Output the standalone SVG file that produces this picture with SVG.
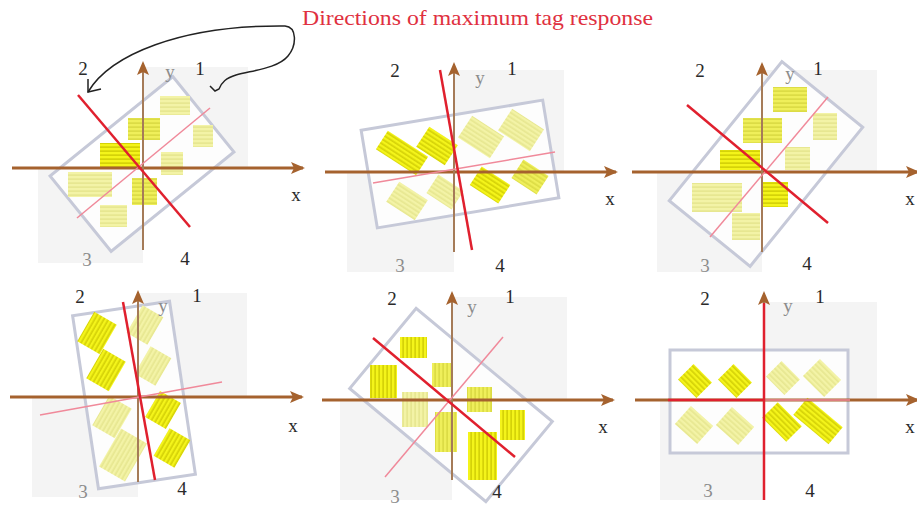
<svg xmlns="http://www.w3.org/2000/svg" width="917" height="509" viewBox="0 0 917 509">
<style>
.bg{fill:#f4f4f4}
.board{fill:#ffffff;fill-opacity:0.8;stroke:#c6c9d8;stroke-width:3}
.ax{stroke:#a5622e;stroke-width:3;fill:none;marker-end:url(#ah)}
.ay{stroke:#a57b58;stroke-width:2;fill:none;marker-end:url(#ah)}
.red{stroke:#e0202e;stroke-width:2.5;fill:none}
.pink{stroke:#f0899a;stroke-width:1.5;fill:none}
.lb{font-family:"Liberation Serif",serif;font-size:19px;fill:#2a2a2a;text-anchor:middle}
.lg{font-family:"Liberation Serif",serif;font-size:19px;fill:#8c8c8c;text-anchor:middle}
.hb{fill:url(#hb)}.hm{fill:url(#hm)}.hf{fill:url(#hf)}
.vb{fill:url(#vb)}.vm{fill:url(#vm)}.vf{fill:url(#vf)}
</style>
<defs>
<marker id="ah" viewBox="0 0 14 12" refX="12" refY="6" markerWidth="14" markerHeight="12" markerUnits="userSpaceOnUse" orient="auto"><path d="M0,0 L14,6 L0,12 L3,6z" fill="#a5622e"/></marker>
<pattern id="hb" width="6" height="4" patternUnits="userSpaceOnUse"><rect width="6" height="4" fill="#f4f41a"/><rect y="2.5" width="6" height="1.2" fill="#c8c400"/></pattern>
<pattern id="hm" width="6" height="4" patternUnits="userSpaceOnUse"><rect width="6" height="4" fill="#efef5a"/><rect y="2.5" width="6" height="1.2" fill="#d4d43c"/></pattern>
<pattern id="hf" width="6" height="4" patternUnits="userSpaceOnUse"><rect width="6" height="4" fill="#f3f3a6"/><rect y="2.5" width="6" height="1.2" fill="#e2e288"/></pattern>
<pattern id="vb" width="4" height="6" patternUnits="userSpaceOnUse"><rect width="4" height="6" fill="#f4f41a"/><rect x="2.5" width="1.2" height="6" fill="#c8c400"/></pattern>
<pattern id="vm" width="4" height="6" patternUnits="userSpaceOnUse"><rect width="4" height="6" fill="#efef5a"/><rect x="2.5" width="1.2" height="6" fill="#d4d43c"/></pattern>
<pattern id="vf" width="4" height="6" patternUnits="userSpaceOnUse"><rect width="4" height="6" fill="#f3f3a6"/><rect x="2.5" width="1.2" height="6" fill="#e2e288"/></pattern>
</defs>
<rect width="917" height="509" fill="#ffffff"/>

<text x="302" y="25" font-family="Liberation Serif, serif" font-size="21" fill="#e03040" textLength="351" lengthAdjust="spacingAndGlyphs">Directions of maximum tag response</text>

<g id="panel1">
<rect class="bg" x="143" y="67" width="105" height="101"/>
<rect class="bg" x="38" y="168" width="105" height="95"/>
<rect class="board" x="-79" y="-48.5" width="158" height="97" transform="translate(142,164) rotate(-39)"/>
<rect class="hf" x="160" y="96" width="30" height="19"/>
<rect class="hm" x="128" y="118" width="32" height="22"/>
<rect class="hf" x="193" y="125" width="20" height="22"/>
<rect class="hb" x="100" y="143" width="40" height="24"/>
<rect class="hf" x="161" y="152" width="22" height="23"/>
<rect class="hf" x="68" y="172" width="44" height="25"/>
<rect class="hm" x="132" y="178" width="25" height="27"/>
<rect class="hf" x="100" y="205" width="27" height="22"/>
<path class="ax" d="M12,168 L303,168"/>
<path class="ay" d="M143,250 L143,63"/>
<path class="pink" d="M77,218 L210,108"/>
<path class="red" d="M78,95 L190,227"/>
<text class="lb" x="83" y="75">2</text>
<text class="lg" x="170" y="78">y</text>
<text class="lb" x="200" y="75">1</text>
<text class="lg" x="87" y="266">3</text>
<text class="lb" x="185" y="265">4</text>
<text class="lb" x="296" y="201">x</text>
</g>

<g id="panel2">
<rect class="bg" x="454" y="70" width="110" height="102"/>
<rect class="bg" x="347" y="172" width="107" height="100"/>
<rect class="board" x="-92" y="-49.5" width="184" height="99" transform="translate(460,164) rotate(-9.4)"/>
<rect class="hb" x="-24" y="-11" width="48" height="22" transform="translate(402,153) rotate(33)"/>
<rect class="hb" x="-17" y="-12" width="34" height="24" transform="translate(437,146) rotate(33)"/>
<rect class="hf" x="-19" y="-13" width="38" height="26" transform="translate(481,137) rotate(33)"/>
<rect class="hf" x="-19" y="-13" width="38" height="26" transform="translate(521,130) rotate(33)"/>
<rect class="hf" x="-17" y="-12" width="34" height="24" transform="translate(407,201) rotate(33)"/>
<rect class="hf" x="-15" y="-11" width="30" height="22" transform="translate(445,192) rotate(33)"/>
<rect class="hb" x="-17" y="-11" width="34" height="22" transform="translate(490,185) rotate(33)"/>
<rect class="hm" x="-15" y="-11" width="30" height="22" transform="translate(530,177) rotate(33)"/>
<path class="ax" d="M325,172 L616,172"/>
<path class="ay" d="M454,252 L454,64"/>
<path class="pink" d="M373,183 L555,152"/>
<path class="red" d="M440,70 L472,250"/>
<text class="lb" x="395" y="77">2</text>
<text class="lg" x="480" y="84">y</text>
<text class="lb" x="512" y="75">1</text>
<text class="lg" x="400" y="272">3</text>
<text class="lb" x="500" y="272">4</text>
<text class="lb" x="610" y="205">x</text>
</g>

<g id="panel3">
<rect class="bg" x="762" y="70" width="115" height="102"/>
<rect class="bg" x="657" y="172" width="105" height="100"/>
<rect class="board" x="-89.5" y="-52" width="179" height="104" transform="translate(766,164) rotate(-51)"/>
<rect class="hm" x="773" y="87" width="34" height="25"/>
<rect class="hm" x="743" y="118" width="39" height="25"/>
<rect class="hf" x="813" y="113" width="24" height="27"/>
<rect class="hb" x="720" y="150" width="40" height="20"/>
<rect class="hf" x="785" y="147" width="25" height="23"/>
<rect class="hf" x="692" y="183" width="50" height="29"/>
<rect class="hb" x="763" y="182" width="25" height="25"/>
<rect class="hf" x="732" y="213" width="28" height="27"/>
<path class="ax" d="M632,172 L918,172"/>
<path class="ay" d="M762,252 L762,64"/>
<path class="pink" d="M710,237 L828,97"/>
<path class="red" d="M687,105 L828,223"/>
<text class="lb" x="700" y="77">2</text>
<text class="lg" x="790" y="80">y</text>
<text class="lb" x="818" y="75">1</text>
<text class="lg" x="705" y="272">3</text>
<text class="lb" x="807" y="270">4</text>
<text class="lb" x="910" y="205">x</text>
</g>

<g id="panel4">
<rect class="bg" x="138" y="293" width="109" height="104"/>
<rect class="bg" x="32" y="397" width="106" height="100"/>
<rect class="board" x="-49" y="-87.5" width="98" height="175" transform="translate(134,395) rotate(-8.5)"/>
<rect class="vb" x="-13" y="-17" width="26" height="34" transform="translate(97,333) rotate(30)"/>
<rect class="vf" x="-12" y="-16" width="24" height="32" transform="translate(145,325) rotate(30)"/>
<rect class="vb" x="-13" y="-17" width="26" height="34" transform="translate(106,370) rotate(30)"/>
<rect class="vf" x="-12" y="-16" width="24" height="32" transform="translate(153,366) rotate(30)"/>
<rect class="vf" x="-13" y="-17" width="26" height="34" transform="translate(112,417) rotate(30)"/>
<rect class="vb" x="-12" y="-15" width="24" height="30" transform="translate(163,410) rotate(30)"/>
<rect class="vf" x="-15" y="-22" width="30" height="44" transform="translate(123,455) rotate(30)"/>
<rect class="vb" x="-12" y="-16" width="24" height="32" transform="translate(172,448) rotate(30)"/>
<path class="ax" d="M10,397 L302,397"/>
<path class="ay" d="M138,482 L138,292"/>
<path class="pink" d="M40,415 L222,382"/>
<path class="red" d="M123,302 L155,480"/>
<text class="lb" x="80" y="303">2</text>
<text class="lg" x="163" y="312">y</text>
<text class="lb" x="197" y="302">1</text>
<text class="lg" x="83" y="498">3</text>
<text class="lb" x="182" y="495">4</text>
<text class="lb" x="293" y="432">x</text>
</g>

<g id="panel5">
<rect class="bg" x="452" y="297" width="115" height="103"/>
<rect class="bg" x="340" y="400" width="112" height="100"/>
<rect class="board" x="-88.5" y="-52" width="177" height="104" transform="translate(451,405) rotate(39.7)"/>
<rect class="vb" x="400" y="337" width="27" height="21"/>
<rect class="vb" x="370" y="365" width="27" height="33"/>
<rect class="vm" x="432" y="363" width="20" height="24"/>
<rect class="vf" x="402" y="392" width="26" height="35"/>
<rect class="vm" x="435" y="412" width="22" height="40"/>
<rect class="vm" x="467" y="387" width="25" height="25"/>
<rect class="vb" x="500" y="410" width="25" height="30"/>
<rect class="vb" x="468" y="432" width="29" height="48"/>
<path class="ax" d="M322,400 L613,400"/>
<path class="ay" d="M452,480 L452,293"/>
<path class="pink" d="M385,477 L503,337"/>
<path class="red" d="M373,338 L515,457"/>
<text class="lb" x="392" y="305">2</text>
<text class="lg" x="472" y="313">y</text>
<text class="lb" x="510" y="303">1</text>
<text class="lg" x="395" y="503">3</text>
<text class="lb" x="497" y="498">4</text>
<text class="lb" x="603" y="433">x</text>
</g>

<g id="panel6">
<rect class="bg" x="764" y="302" width="113" height="98"/>
<rect class="bg" x="660" y="400" width="104" height="100"/>
<rect class="board" x="670" y="350" width="178" height="103"/>
<rect class="hb" x="-13" y="-11" width="26" height="22" transform="translate(695,381) rotate(45)"/>
<rect class="hb" x="-13" y="-11" width="26" height="22" transform="translate(735,381) rotate(45)"/>
<rect class="hf" x="-13" y="-11" width="26" height="22" transform="translate(783,378) rotate(45)"/>
<rect class="hf" x="-15" y="-12" width="30" height="24" transform="translate(822,378) rotate(45)"/>
<rect class="hf" x="-15" y="-12" width="30" height="24" transform="translate(694,425) rotate(42)"/>
<rect class="hf" x="-15" y="-12" width="30" height="24" transform="translate(735,426) rotate(42)"/>
<rect class="hb" x="-17" y="-11" width="34" height="22" transform="translate(782,422) rotate(45)"/>
<rect class="hb" x="-23" y="-11" width="46" height="22" transform="translate(818,421) rotate(40)"/>
<path class="ax" d="M635,400 L918,400"/>
<path class="ay" d="M764,500 L764,293"/>
<path class="red" d="M668,400 L764,400"/>
<path class="pink" d="M764,400 L850,400"/>
<path class="red" d="M764,303 L764,500"/>
<text class="lb" x="705" y="305">2</text>
<text class="lg" x="788" y="312">y</text>
<text class="lb" x="820" y="303">1</text>
<text class="lg" x="708" y="497">3</text>
<text class="lb" x="810" y="497">4</text>
<text class="lb" x="910" y="433">x</text>
</g>

<g id="connectors">
<path d="M88,92 C110,55 180,25 285,26 C297,27 297,45 288,56 C278,68 255,70 236,75 C226,78 222,82 219,89 L215,91 L210,86" fill="none" stroke="#222" stroke-width="1.5"/>
<path d="M88,79 L88,92 L101,89" fill="none" stroke="#222" stroke-width="1.5"/>
</g>
</svg>
